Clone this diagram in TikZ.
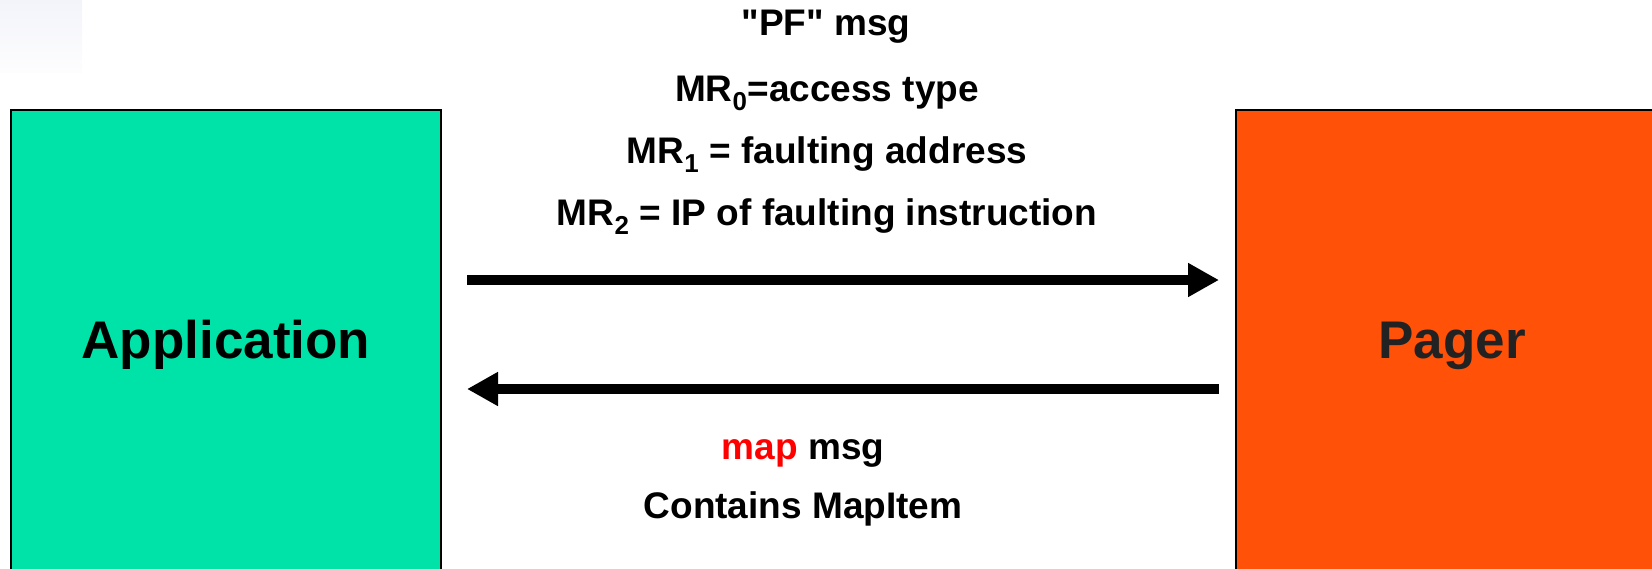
\documentclass[tikz,border=0pt]{standalone}
\usepackage{fontspec}
\setmainfont{Liberation Sans}
\usetikzlibrary{arrows.meta}
\definecolor{appgreen}{RGB}{0,227,168}
\definecolor{pagerorange}{RGB}{255,82,8}
\definecolor{mapred}{RGB}{255,0,0}
\definecolor{pagertext}{RGB}{34,34,34}
\begin{document}
\begin{tikzpicture}[x=1pt,y=-1pt,
  box/.style={draw=black, line width=2.5pt, inner sep=0pt, outer sep=0pt, anchor=north west},
  lbl/.style={font=\fontsize{37}{44}\selectfont\bfseries, anchor=base, inner sep=0pt},
  big/.style={font=\fontsize{53}{60}\selectfont\bfseries, anchor=base, inner sep=0pt},
  msgarrow/.style={line width=10pt, -{Triangle[length=31pt,width=32pt]}}]
\useasboundingbox (0,0) rectangle (1652,568);
\clip (0,0) rectangle (1652,568);
\shade[top color={rgb,255:red,243;green,244;blue,250}, bottom color={rgb,255:red,253;green,253;blue,254}] (0,0) rectangle (82,72);
\node[box, fill=appgreen, minimum width=430pt, minimum height=520pt] (app) at (11,110) {};
\node[box, fill=pagerorange, minimum width=500pt, minimum height=520pt] (pager) at (1236,110) {};
\node[big] (applbl) at (226,358) {Application};
\node[big, text=pagertext] (pagerlbl) at (1452,358) {Pager};
\node[lbl] (pf) at (826,35) {\textquotedbl PF\textquotedbl{} msg};
\node[lbl] (mr0) at (827,101) {MR\textsubscript{0}=access type};
\node[lbl] (mr1) at (827,163) {MR\textsubscript{1} = faulting address};
\node[lbl] (mr2) at (827,225) {MR\textsubscript{2} = IP of faulting instruction};
\node[lbl] (mapmsg) at (803,459) {\textcolor{mapred}{map} msg};
\node[lbl] (contains) at (803,518) {Contains MapItem};
\coordinate (r1s) at (467,280);
\coordinate (r1e) at (1219,280);
\coordinate (r2s) at (1219,389);
\coordinate (r2e) at (467,389);
\draw[msgarrow] (r1s) -- (r1e);
\draw[msgarrow] (r2s) -- (r2e);
\end{tikzpicture}
\end{document}
